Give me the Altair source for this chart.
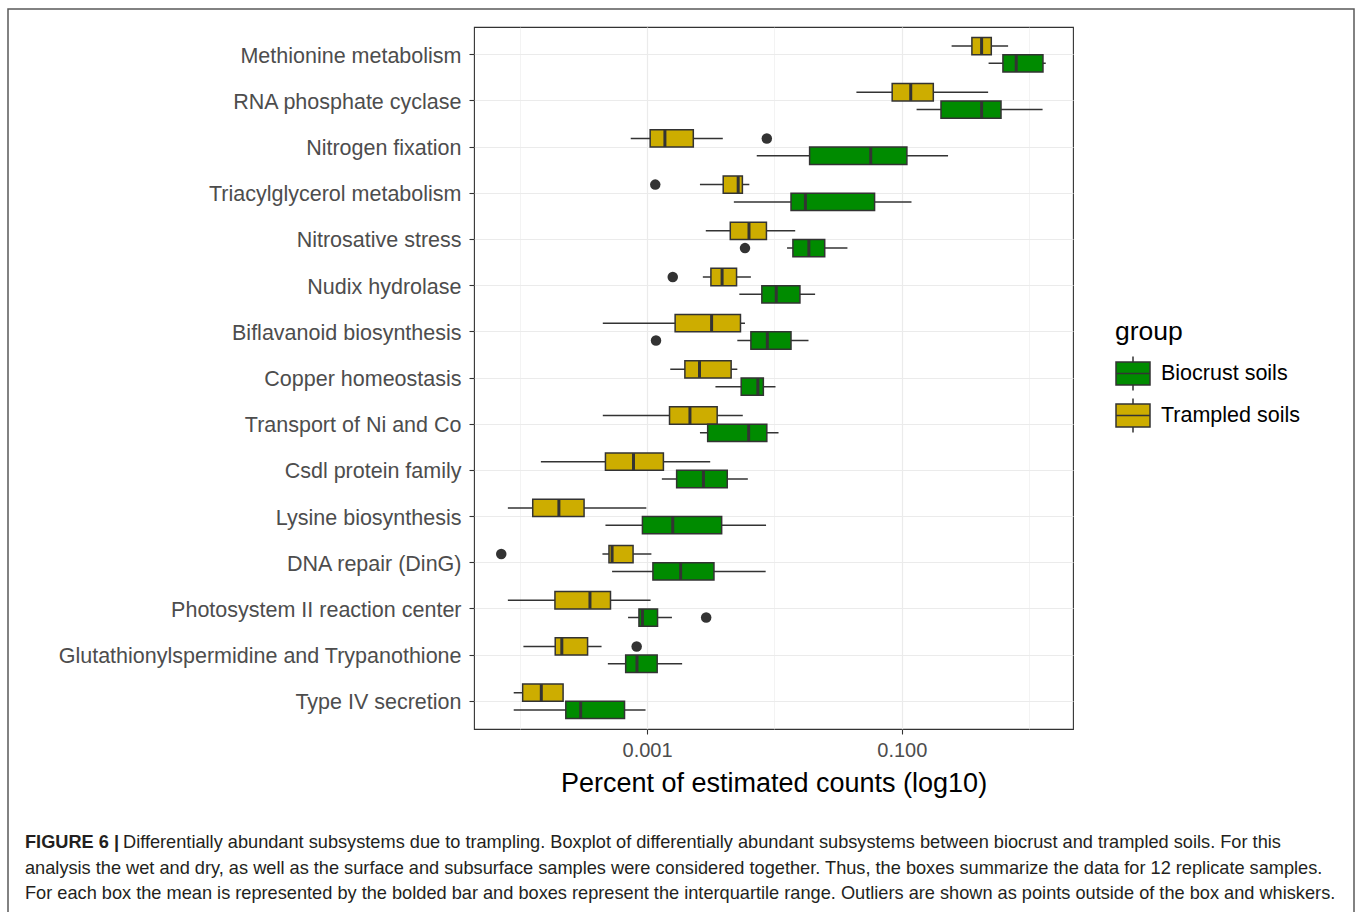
import altair as alt
import pandas as pd

categories = [
    "Methionine metabolism", "RNA phosphate cyclase", "Nitrogen fixation",
    "Triacylglycerol metabolism", "Nitrosative stress", "Nudix hydrolase",
    "Biflavanoid biosynthesis", "Copper homeostasis", "Transport of Ni and Co",
    "Csdl protein family", "Lysine biosynthesis", "DNA repair (DinG)",
    "Photosystem II reaction center", "Glutathionylspermidine and Trypanothione",
    "Type IV secretion",
]
groups = ["Biocrust soils", "Trampled soils"]
group_colors = ["#008B00", "#CDAD00"]

# Trampled soils: whisker low, Q1, median, Q3, whisker high
tr_low = [0.246, 0.0440, 0.000744, 0.00260, 0.00289, 0.00274, 0.000449, 0.00152,
          0.000449, 0.0001466, 0.0000807, 0.000446, 0.0000807, 0.0001069, 0.0000897]
tr_q1 = [0.355, 0.0840, 0.001057, 0.00396, 0.00450, 0.00317, 0.00166, 0.00198,
         0.00150, 0.000471, 0.0001265, 0.000502, 0.000189, 0.000190, 0.0001054]
tr_med = [0.423, 0.1175, 0.00138, 0.00519, 0.00631, 0.00388, 0.00321, 0.00258,
          0.00217, 0.000782, 0.000203, 0.000531, 0.000356, 0.000214, 0.0001477]
tr_q3 = [0.504, 0.1767, 0.002306, 0.00560, 0.00865, 0.00504, 0.00541, 0.00457,
         0.00355, 0.001343, 0.000320, 0.000776, 0.000516, 0.000341, 0.000219]
tr_high = [0.683, 0.476, 0.00393, 0.00635, 0.01455, 0.00653, 0.00587, 0.00511,
           0.00564, 0.00313, 0.000986, 0.001081, 0.001065, 0.000439, 0.000219]

# Biocrust soils
bc_low = [0.480, 0.1306, 0.00726, 0.00480, 0.01256, 0.00530, 0.00511, 0.00344,
          0.00260, 0.001306, 0.000471, 0.000531, 0.000709, 0.000492, 0.0000897]
bc_q1 = [0.622, 0.203, 0.01888, 0.01349, 0.01396, 0.00796, 0.00653, 0.00548,
         0.00299, 0.001706, 0.000919, 0.001111, 0.000863, 0.000679, 0.000230]
bc_med = [0.791, 0.423, 0.0570, 0.01750, 0.01862, 0.01033, 0.00879, 0.00741,
          0.00627, 0.00277, 0.00159, 0.001834, 0.000919, 0.000833, 0.000301]
bc_q3 = [1.283, 0.601, 0.1096, 0.0611, 0.02481, 0.01585, 0.01349, 0.00818,
         0.00871, 0.00426, 0.00385, 0.00335, 0.001208, 0.001200, 0.000665]
bc_high = [1.349, 1.274, 0.2307, 0.1191, 0.0374, 0.02085, 0.01850, 0.01019,
           0.01076, 0.00618, 0.00859, 0.00853, 0.001567, 0.001884, 0.000972]

# Outliers
out_cat = ["Nitrogen fixation", "Triacylglycerol metabolism", "Nitrosative stress",
           "Nudix hydrolase", "Biflavanoid biosynthesis", "DNA repair (DinG)",
           "Photosystem II reaction center", "Glutathionylspermidine and Trypanothione"]
out_group = ["Trampled soils", "Trampled soils", "Biocrust soils", "Trampled soils",
             "Biocrust soils", "Trampled soils", "Biocrust soils", "Trampled soils"]
out_val = [0.00871, 0.001159, 0.00587, 0.00159, 0.001175, 0.0000716, 0.00291, 0.000828]

caption_bold = "FIGURE 6 |"
caption_lines = [
    "Differentially abundant subsystems due to trampling. Boxplot of differentially abundant subsystems between biocrust and trampled soils. For this",
    "analysis the wet and dry, as well as the surface and subsurface samples were considered together. Thus, the boxes summarize the data for 12 replicate samples.",
    "For each box the mean is represented by the bolded bar and boxes represent the interquartile range. Outliers are shown as points outside of the box and whiskers.",
]

rows = []
for i, c in enumerate(categories):
    rows.append(dict(category=c, group="Trampled soils", lo=tr_low[i], q1=tr_q1[i],
                     med=tr_med[i], q3=tr_q3[i], hi=tr_high[i]))
    rows.append(dict(category=c, group="Biocrust soils", lo=bc_low[i], q1=bc_q1[i],
                     med=bc_med[i], q3=bc_q3[i], hi=bc_high[i]))
box_df = pd.DataFrame(rows)
out_df = pd.DataFrame({"category": out_cat, "group": out_group, "value": out_val})

FONT = "Liberation Sans"
W, H = 599, 702
LEFT, TOP = 474, 27
CAP_SIZE = 18.2

x_scale = alt.Scale(type="log", domain=[4.375e-5, 2.208], nice=False)
major_test = "datum.value == 0.001 || datum.value == 0.1"
x_axis = alt.Axis(
    values=[0.0001, 0.001, 0.01, 0.1, 1],
    labelExpr="datum.value == 0.001 ? '0.001' : (datum.value == 0.1 ? '0.100' : '')",
    title="Percent of estimated counts (log10)",
    grid=True, gridColor="#EBEBEB",
    gridWidth={"condition": {"test": major_test, "value": 1.2}, "value": 0.6},
    tickColor={"condition": {"test": major_test, "value": "#333333"}, "value": "transparent"},
    tickSize=5, tickWidth=1.1, domain=False,
    labelFontSize=20, labelColor="#4D4D4D", labelPadding=6, labelOverlap=False,
    labelFlush=False, titleFontSize=27, titleColor="#000000", titleFontWeight="normal",
    titlePadding=10,
)
y_enc = alt.Y(
    "category:N", sort=categories, title=None,
    scale=alt.Scale(domain=categories, paddingInner=0.25, paddingOuter=0.225),
    axis=alt.Axis(grid=True, gridColor="#EBEBEB", gridWidth=1.2, bandPosition=0.5,
                  tickColor="#333333", tickSize=5, tickWidth=1.1, domain=False,
                  labelFontSize=21.5, labelColor="#4D4D4D", labelPadding=8,
                  labelLimit=0, labelOffset=2),
)
yoff = alt.YOffset("group:N", scale=alt.Scale(domain=["Trampled soils", "Biocrust soils"],
                                               paddingInner=0, paddingOuter=0))

base = alt.Chart(box_df)

whiskers = base.mark_rule(color="#333333", strokeWidth=1.5).encode(
    x=alt.X("lo:Q", scale=x_scale, axis=x_axis), x2="hi:Q", y=y_enc, yOffset=yoff)

legend_path = "M-1,-0.67H1V0.67H-1Z M-1,0H1 M0,-0.67V-1 M0,0.67V1"
boxes = base.mark_bar(stroke="#333333", strokeWidth=1.5, opacity=1).encode(
    x=alt.X("q1:Q", scale=x_scale, axis=x_axis), x2="q3:Q", y=y_enc, yOffset=yoff,
    color=alt.Color("group:N", scale=alt.Scale(domain=groups, range=group_colors),
                    legend=alt.Legend(
                        title="group", orient="none", legendX=641, legendY=292,
                        symbolType=legend_path, symbolSize=1156,
                        symbolStrokeColor="#333333", symbolStrokeWidth=1.5,
                        titleFontSize=26.5, titleFontWeight="normal", titleColor="#000000",
                        labelFontSize=21.5, labelColor="#000000", labelOffset=10,
                        labelLimit=0, titlePadding=10, rowPadding=2, padding=0)),
)

medians = base.mark_tick(color="#333333", thickness=3, size=17, opacity=1).encode(
    x=alt.X("med:Q", scale=x_scale, axis=x_axis), y=y_enc, yOffset=yoff)

points = alt.Chart(out_df).mark_circle(color="#333333", size=110, opacity=1).encode(
    x=alt.X("value:Q", scale=x_scale, axis=x_axis), y=y_enc, yOffset=yoff)

one = pd.DataFrame({"k": [0]})
border = alt.Chart(one).mark_rect(fill="transparent", stroke="#5A5A5A", strokeWidth=1.5).encode(
    x=alt.value(8 - LEFT), x2=alt.value(1354 - LEFT), y=alt.value(9 - TOP), y2=alt.value(940 - TOP))

cap_layers = []
line_y = [843, 869, 894]
cap_layers.append(alt.Chart(one).mark_text(
    text=caption_bold, align="left", baseline="middle", font=FONT, fontSize=CAP_SIZE,
    fontWeight="bold", color="#231F20").encode(x=alt.value(25 - LEFT), y=alt.value(line_y[0] - TOP)))
starts = [123, 25, 25]
for i, t in enumerate(caption_lines):
    cap_layers.append(alt.Chart(one).mark_text(
        text=t, align="left", baseline="middle", font=FONT, fontSize=CAP_SIZE,
        color="#231F20").encode(x=alt.value(starts[i] - LEFT), y=alt.value(line_y[i] - TOP)))

chart = alt.layer(border, whiskers, boxes, medians, points, *cap_layers).properties(
    width=W, height=H,
    autosize=alt.AutoSizeParams(type="none"),
    padding={"left": LEFT, "top": TOP, "right": 1358 - LEFT - W, "bottom": 912 - TOP - H},
    background="white",
).configure_view(stroke="#333333", strokeWidth=1.1).configure_axis(
    labelFont=FONT, titleFont=FONT).configure_legend(labelFont=FONT, titleFont=FONT)

chart.save("out.html", embed_options={"renderer": "svg", "actions": False})
